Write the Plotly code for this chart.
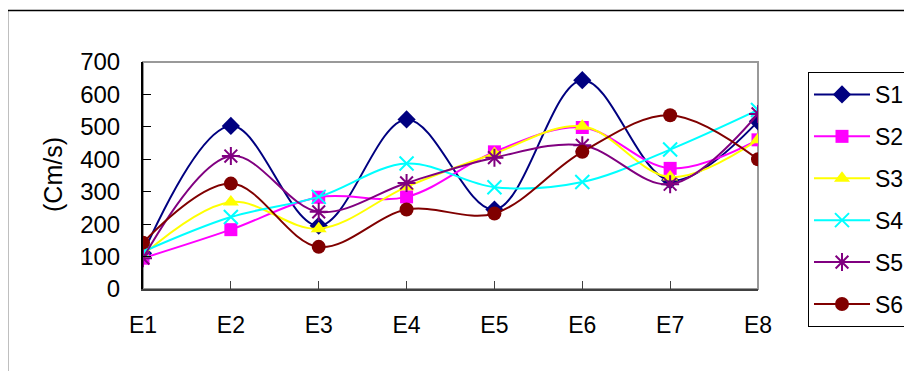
import plotly.graph_objects as go

categories = ["E1", "E2", "E3", "E4", "E5", "E6", "E7", "E8"]
s1 = [110, 503, 195, 523, 245, 644, 335, 517]
s2 = [95, 183, 283, 284, 423, 498, 372, 460]
s3 = [105, 268, 186, 315, 418, 502, 345, 460]
s4 = [115, 222, 284, 387, 314, 330, 430, 552]
s5 = [95, 410, 238, 327, 405, 443, 323, 540]
s6 = [143, 325, 130, 245, 233, 423, 536, 400]
series_names = ["S1", "S2", "S3", "S4", "S5", "S6"]
y_ticks = [0, 100, 200, 300, 400, 500, 600, 700]

colors = ["#000080", "#FF00FF", "#FFFF00", "#00FFFF", "#800080", "#800000"]
symbols = ["diamond", "square", "triangle-up", "x-thin-open", "asterisk-open", "circle"]
sizes = [14, 13, 14, 14, 15, 14]
FONT = "Arial, Liberation Sans, sans-serif"

OFF = 8  # default page body margin
W, H = 912 - OFF, 371 - OFF
L, T = 143 - OFF, 62 - OFF
R = W - (758 - OFF)
B = H - (289 - OFF)
pw, ph = W - L - R, H - T - B


def px_to_paper_x(px):
    return (px - OFF - L) / pw


def px_to_paper_y(py):
    return (H - B - (py - OFF)) / ph


fig = go.Figure()
for i, (name, vals) in enumerate(zip(series_names, [s1, s2, s3, s4, s5, s6])):
    open_sym = symbols[i].endswith("open")
    fig.add_trace(go.Scatter(
        x=categories, y=vals, name=name, mode="lines+markers",
        legendgroup=name,
        line=dict(color=colors[i], width=2, shape="spline", smoothing=1.0),
        marker=dict(symbol=symbols[i], size=sizes[i], color=colors[i],
                    line=dict(color=colors[i], width=2 if open_sym else 0)),
    ))

fig.update_layout(
    width=W, height=H,
    margin=dict(l=L, r=R, t=T, b=B, autoexpand=False),
    paper_bgcolor="white", plot_bgcolor="white",
    font=dict(family=FONT, size=23, color="black"),
    showlegend=True,
    legend=dict(
        x=px_to_paper_x(808), y=px_to_paper_y(72), xanchor="left", yanchor="top",
        bordercolor="black", borderwidth=1, bgcolor="white",
        font=dict(family=FONT, size=23, color="black"),
        tracegroupgap=9, itemwidth=56, traceorder="grouped",
        maxheight=300,
    ),
    xaxis=dict(
        type="category", range=[0, 7], showgrid=False, zeroline=False,
        showline=True, linecolor="#404040", linewidth=2,
        ticks="inside", ticklen=8, tickcolor="#404040", tickwidth=1,
        ticklabelstandoff=14,
        tickfont=dict(family=FONT, size=23, color="black"),
    ),
    yaxis=dict(
        range=[0, 700], tickvals=y_ticks, showgrid=False, zeroline=False,
        showline=True, linecolor="black", linewidth=2,
        ticks="inside", ticklen=8, tickcolor="black", tickwidth=1,
        ticklabelstandoff=16,
        tickfont=dict(family=FONT, size=24, color="black"),
    ),
    shapes=[
        dict(type="rect", xref="paper", yref="paper", x0=0, y0=0, x1=1, y1=1,
             line=dict(color="#999999", width=2), layer="below"),
        dict(type="rect", xref="paper", yref="paper",
             x0=px_to_paper_x(7.5), y0=px_to_paper_y(390),
             x1=px_to_paper_x(940), y1=px_to_paper_y(10.5),
             line=dict(color="black", width=1.5), layer="below"),
    ],
    annotations=[
        dict(text="(Cm/s)", xref="paper", yref="paper",
             x=px_to_paper_x(53), y=px_to_paper_y(175),
             xanchor="center", yanchor="middle", textangle=-90, showarrow=False,
             font=dict(family=FONT, size=25, color="black")),
    ],
)

fig.write_html("out.html")
